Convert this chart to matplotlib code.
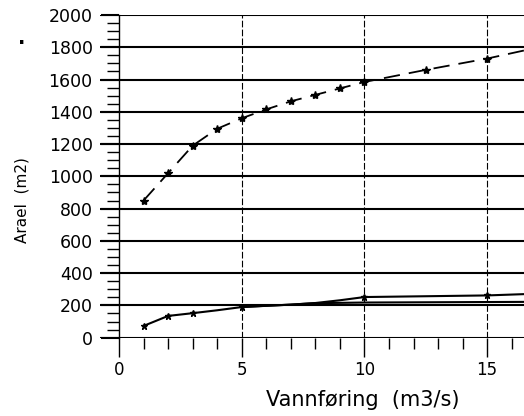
import numpy as np
import matplotlib.pyplot as plt
from matplotlib.ticker import MultipleLocator

# upper curve (dashed, star markers)
x_up = [1, 2, 3, 4, 5, 6, 7, 8, 9, 10, 12.5, 15, 16.5]
y_up = [850, 1020, 1190, 1295, 1360, 1415, 1465, 1505, 1545, 1585, 1660, 1730, 1780]
mark_up = [1, 2, 3, 4, 5, 6, 7, 8, 9, 10, 12.5, 15]

# lower curves (solid)
x_low = [1, 2, 3, 4, 5, 6, 7, 8, 9, 10, 15, 16.5]
y_low = [73, 135, 152, 170, 190, 198, 205, 215, 232, 252, 262, 270]
mark_low = [1, 2, 3, 5, 10, 15]

x_low2 = [5, 7, 8, 10, 16.5]
y_low2 = [190, 205, 214, 218, 222]

fig = plt.figure(figsize=(5.24, 4.16), dpi=100)
ax = fig.add_axes([100 / 524, 1 - 337.7 / 416, 1 - 100 / 524, (337.7 - 15) / 416])

ax.set_xlim(-0.775, 16.5)
ax.set_ylim(0, 2000)

# grid
for yv in range(0, 2001, 200):
    ax.axhline(yv, color='black', lw=1.5, zorder=1)
for xv in [5, 10, 15]:
    ax.axvline(xv, color='black', lw=0.8, ls=(0, (6, 2)), zorder=1)

# data
ax.plot(x_up, y_up, color='black', lw=1.3, ls=(0, (9, 5)), zorder=3)
ax.plot(mark_up, np.interp(mark_up, x_up, y_up), ls='none', marker='*',
        ms=6, color='black', zorder=4)
ax.plot(x_low, y_low, color='black', lw=1.5, zorder=3)
ax.plot(x_low2, y_low2, color='black', lw=1.5, zorder=3)
ax.plot(mark_low, np.interp(mark_low, x_low, y_low), ls='none', marker='*',
        ms=5, color='black', zorder=4)

# axes styling
for s in ['top', 'right', 'bottom']:
    ax.spines[s].set_visible(False)
ax.spines['left'].set_position(('data', 0))
ax.spines['left'].set_linewidth(1.0)
ax.spines['left'].set_zorder(2)

ax.yaxis.set_major_locator(MultipleLocator(200))
ax.yaxis.set_minor_locator(MultipleLocator(50))
ax.xaxis.set_major_locator(MultipleLocator(5))
ax.xaxis.set_minor_locator(MultipleLocator(1))
ax.set_xticks([0, 5, 10, 15])

ax.tick_params(axis='y', which='major', direction='out', length=13, width=1.5, pad=6, labelsize=12.5)
ax.tick_params(axis='y', which='minor', direction='out', length=8.5, width=1.0)
ax.tick_params(axis='x', which='major', direction='out', length=14, width=1.0, pad=3, labelsize=12)
ax.tick_params(axis='x', which='minor', direction='out', length=8, width=1.0)

# axis titles
fig.text(363 / 524, 1 - 400 / 416, 'Vannføring  (m3/s)', fontsize=15, ha='center', va='center')
fig.text(22 / 524, 1 - 200 / 416, 'Arael  (m2)', fontsize=11, rotation=90, ha='center', va='center')

fig.text(22 / 524, 1 - 38 / 416, '.', fontsize=14, fontweight='bold', ha='center', va='center')

fig.savefig('out.png', dpi=100)
